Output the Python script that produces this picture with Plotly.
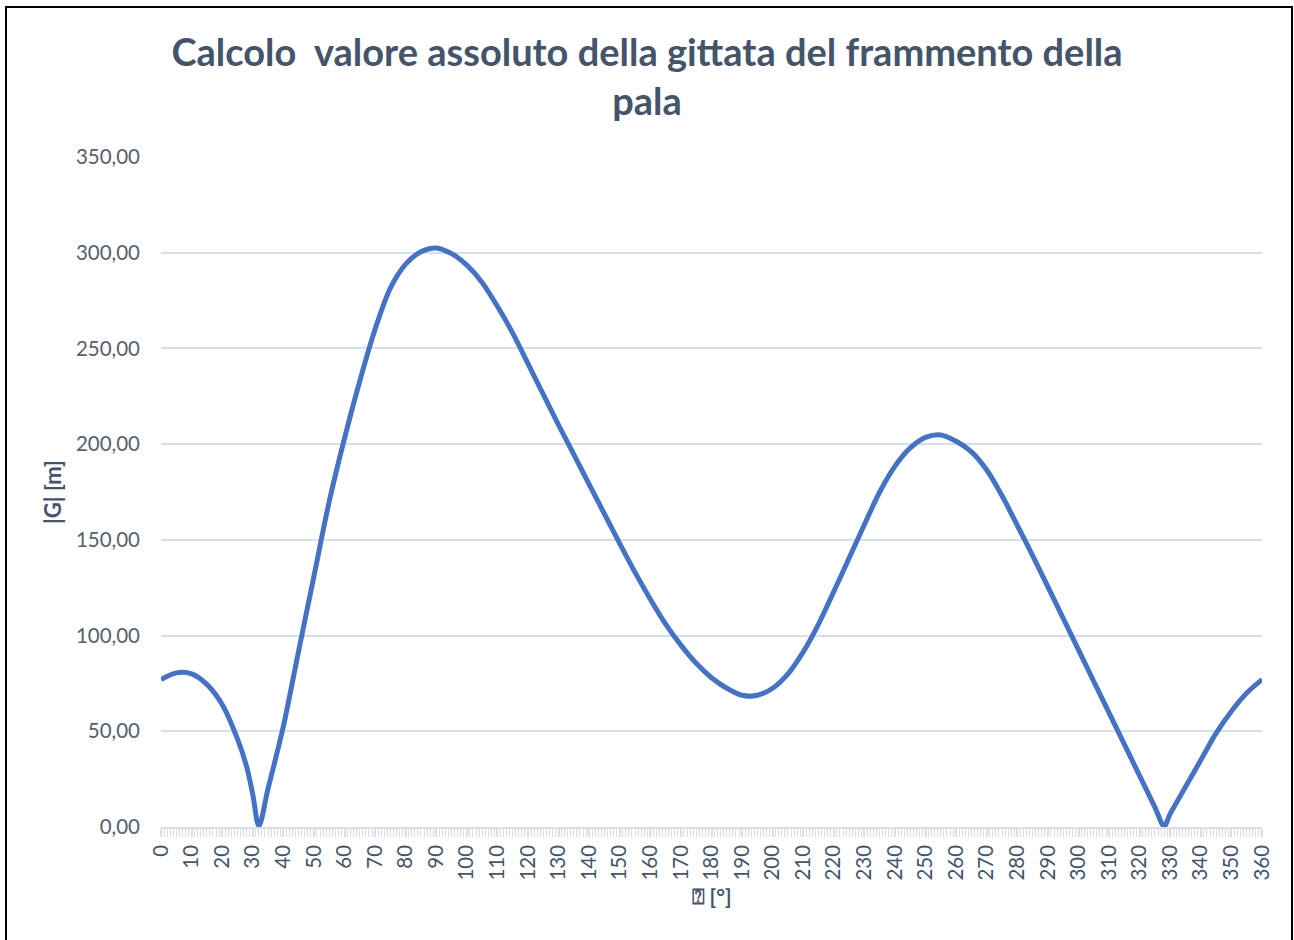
import plotly.graph_objects as go

# Angle (degrees) and absolute range |G| (m)
theta_deg = [0, 5, 10, 15, 20, 25, 28, 30, 32, 35, 40, 45, 50, 55, 60, 65, 70, 75, 80, 85,
             90, 95, 100, 105, 110, 115, 120, 125, 130, 135, 140, 145, 150, 155, 160, 165,
             170, 175, 180, 185, 190, 195, 200, 205, 210, 215, 220, 225, 230, 235, 240, 245,
             250, 255, 260, 265, 270, 275, 280, 285, 290, 295, 300, 305, 310, 315, 320, 325,
             328, 330, 335, 340, 345, 350, 355, 360]
g_abs = [77.0, 80.5, 80.0, 74.5, 64.0, 46.0, 31.5, 17.0, 0.5, 20.0, 52.5, 92.0, 131.0, 170.0,
         203.0, 233.0, 260.0, 281.5, 294.0, 300.5, 302.5, 299.5, 293.5, 284.5, 272.0, 258.0,
         242.0, 226.0, 210.0, 194.5, 179.0, 163.5, 148.0, 133.0, 119.0, 106.0, 95.0, 85.5,
         78.0, 72.5, 68.8, 68.8, 72.5, 80.0, 91.5, 106.0, 123.0, 140.5, 158.0, 175.0, 188.5,
         198.0, 203.5, 204.8, 201.5, 196.0, 186.5, 173.0, 157.5, 141.8, 125.4, 109.0, 92.5,
         76.0, 59.6, 43.2, 26.7, 10.3, 0.5, 7.0, 21.0, 35.0, 49.0, 60.5, 70.0, 77.0]

x_tickvals = list(range(0, 361, 10))
x_ticktext = [str(v) for v in x_tickvals]
y_tickvals = [0, 50, 100, 150, 200, 250, 300, 350]

title_text = "Calcolo  valore assoluto della gittata del frammento della<br>pala"
x_title = "⍰ [°]"
y_title = "|G| [m]"

FONT = "Lato, Open Sans, sans-serif"
DARK = "#44546A"
GRID = "#D9DEE7"

fig = go.Figure()
fig.add_trace(go.Scatter(
    x=theta_deg, y=g_abs, mode="lines",
    line=dict(color="#4472C4", width=5, shape="spline", smoothing=0.9),
    showlegend=False, hoverinfo="x+y",
))

W, H = 1294, 940
L, R, T, B = 161, 32, 157, 113
pw, ph = W - L - R, H - T - B

def px2x(px):
    return (px - L) / pw

def py2y(py):
    return (H - B - py) / ph

fig.update_layout(
    width=W, height=H,
    margin=dict(l=L, r=R, t=T, b=B),
    paper_bgcolor="white", plot_bgcolor="white",
    separators=",.",
    font=dict(family=FONT, color=DARK),
    title=dict(text=title_text, x=0.5, xref="container", xanchor="center",
               y=1 - 66 / H, yref="container", yanchor="middle",
               font=dict(family=FONT, size=38, color=DARK, weight="bold")),
    xaxis=dict(
        range=[0, 360], tickmode="array", tickvals=x_tickvals, ticktext=x_ticktext,
        tickangle=-90, tickfont=dict(size=20.5, color=DARK),
        ticks="outside", ticklen=8, tickcolor=GRID, tickwidth=1.5,
        minor=dict(dtick=1, ticks="outside", ticklen=8, tickcolor=GRID, tickwidth=1.4),
        showline=True, linecolor=GRID, linewidth=1.5,
        showgrid=False, zeroline=False,
        title=dict(text=x_title, font=dict(size=21, color=DARK, weight="bold"), standoff=10),
    ),
    yaxis=dict(
        range=[0, 350], tickmode="array", tickvals=y_tickvals,
        tickformat=".2f", tickfont=dict(size=20.5, color="#56606F"),
        ticks="", ticklabelstandoff=20,
        showgrid=True, gridcolor=GRID, gridwidth=1.8,
        zeroline=False, showline=False,
        title=dict(text=y_title, font=dict(size=22, color=DARK, weight="bold"), standoff=8),
    ),
    shapes=[dict(type="rect", xref="paper", yref="paper",
                 x0=px2x(6), x1=px2x(1292), y0=py2y(960), y1=py2y(7),
                 line=dict(color="black", width=2), fillcolor="rgba(0,0,0,0)", layer="above")],
)

fig.write_html("out.html", config={"displayModeBar": False},
               post_script="document.body.style.margin='0px';")
